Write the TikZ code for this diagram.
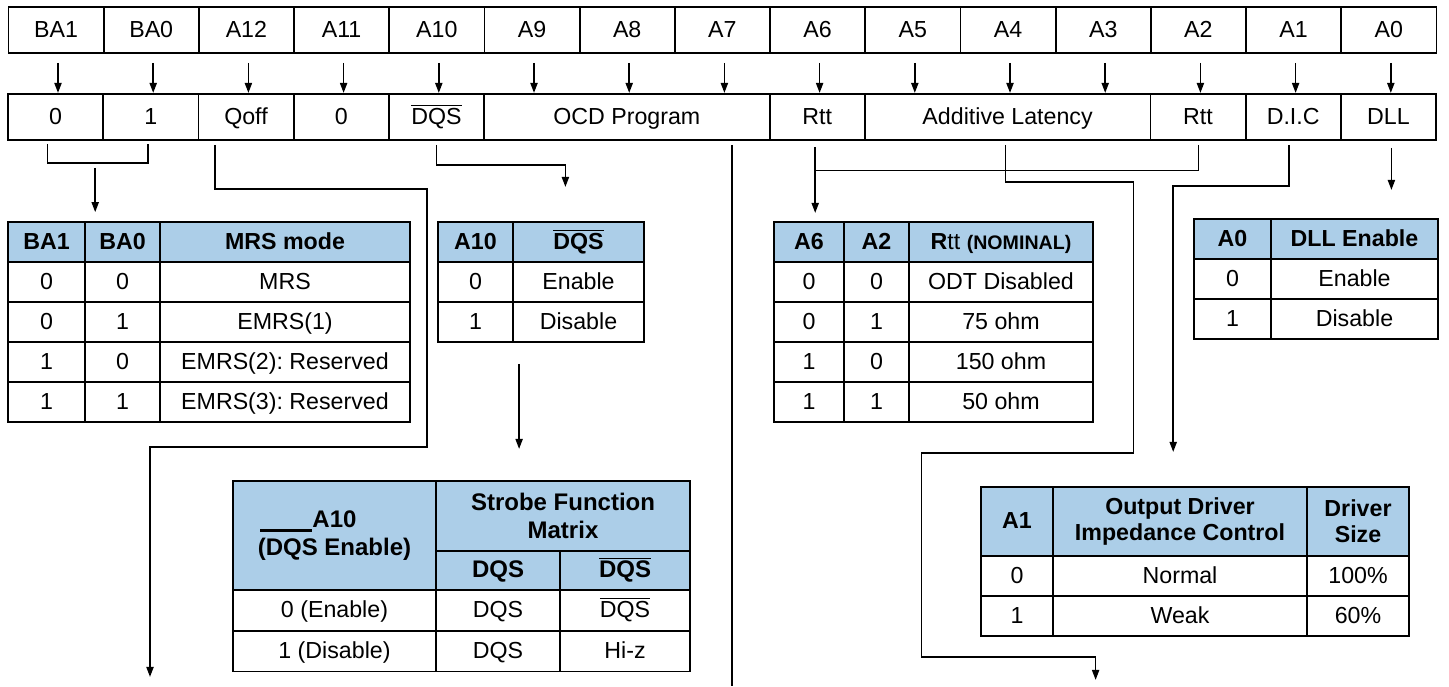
\documentclass[tikz,border=0pt]{standalone}
\usepackage{fontspec}
\setmainfont{Liberation Sans}
\usetikzlibrary{arrows.meta, calc, positioning}
\definecolor{hdblue}{RGB}{172,206,232}
\frenchspacing
\tikzset{
	cell/.style={draw, line width=0.9pt, inner sep=0pt, align=center, text height=0.9em, text depth=0.18em,
		font=\fontsize{11.6}{13}\selectfont},
	hd/.style={cell, fill=hdblue, font=\fontsize{11.6}{13}\selectfont\bfseries},
	bighd/.style={hd, font=\fontsize{12}{14}\selectfont\bfseries},
	multi/.style={text height={}, text depth={}},
	bit/.style={cell, minimum width=47.6pt, minimum height=23pt, font=\fontsize{11.6}{13}\selectfont},
	wire/.style={line width=0.75pt},
	thinwire/.style={line width=0.4pt},
	arr/.style={wire, -{Triangle[length=5pt,width=3.6pt]}}
}
\newcommand{\ovl}[1]{$\overline{\mbox{#1}}$}
% table cell from (x1,y1) to (x2,y2), pixel units
\newcommand{\tc}[7][cell]{\node[#1, minimum width={((#5)-(#3))*0.5pt}, minimum height={((#6)-(#4))*0.5pt}]
	(#2) at ({((#3)+(#5))/2},{((#4)+(#6))/2}) {#7};}

\begin{document}
\begin{tikzpicture}[x=0.5pt, y=-0.5pt]
	\useasboundingbox (0,0) rectangle (1449,686);
	% address bits
	\foreach \lab [count=\i from 0] in {BA1,BA0,A12,A11,A10,A9,A8,A7,A6,A5,A4,A3,A2,A1,A0}
		\node[bit] (b\i) at ({56+95.2*\i},30) {\lab};
	% fields
	\foreach \s/\n/\lab [count=\j from 0] in {0/1/0, 1/1/1, 2/1/Qoff, 3/1/0, 4/1/{\ovl{DQS}}, 5/3/OCD Program,
		8/1/Rtt, 9/3/Additive Latency, 12/1/Rtt, 13/1/D.I.C, 14/1/DLL}
		\node[bit, minimum width=47.6pt*\n] (c\j) at ({8+95.2*(\s+\n/2)},117) {\lab};
	\foreach \i in {0,...,14}
		\draw[arr] ($(b\i.south)+(2,9)$) -- ($(b\i.south)+(2,39)$);

	% MRS mode
	\tc[hd]{mh1}{8}{222}{85}{262}{BA1}
	\tc[hd]{mh2}{85}{222}{160}{262}{BA0}
	\tc[hd]{mh3}{160}{222}{410}{262}{MRS mode}
	\foreach \p/\q/\m [count=\r] in {0/0/MRS, 0/1/EMRS(1), 1/0/{EMRS(2): Reserved}, 1/1/{EMRS(3): Reserved}} {
		\tc{m\r a}{8}{222+40*\r}{85}{262+40*\r}{\p}
		\tc{m\r b}{85}{222+40*\r}{160}{262+40*\r}{\q}
		\tc{m\r c}{160}{222+40*\r}{410}{262+40*\r}{\m}
	}

	% A10 / DQS
	\tc[hd]{ah1}{438}{222}{513}{262}{A10}
	\tc[hd]{ah2}{513}{222}{644}{262}{\ovl{DQS}}
	\foreach \p/\m [count=\r] in {0/Enable, 1/Disable} {
		\tc{a\r a}{438}{222+40*\r}{513}{262+40*\r}{\p}
		\tc{a\r b}{513}{222+40*\r}{644}{262+40*\r}{\m}
	}

	% strobe function matrix
	\tc[bighd,multi]{sh1}{233}{481}{436}{590}{\llap{\rule[-2.5pt]{26pt}{1.6pt}}A10\\(DQS Enable)}
	\tc[bighd,multi]{sh2}{436}{481}{690}{551}{Strobe Function\\Matrix}
	\tc[bighd]{sh3}{436}{551}{560}{590}{DQS}
	\tc[bighd]{sh4}{560}{551}{690}{590}{\ovl{DQS}}
	\foreach \p/\q/\m/\y in {0 (Enable)/DQS/{\ovl{DQS}}/590, 1 (Disable)/DQS/Hi-z/631} {
		\tc{s\y a}{233}{\y}{436}{\y+40.5}{\p}
		\tc{s\y b}{436}{\y}{560}{\y+40.5}{\q}
		\tc{s\y c}{560}{\y}{690}{\y+40.5}{\m}
	}

	% Rtt
	\tc[hd]{rh1}{774}{222}{844}{262}{A6}
	\tc[hd]{rh2}{844}{222}{909}{262}{A2}
	\tc[hd]{rh3}{909}{222}{1093}{262}{R{\mdseries tt} {\fontsize{9.8}{11}\selectfont(NOMINAL)}}
	\foreach \p/\q/\m [count=\r] in {0/0/ODT Disabled, 0/1/75 ohm, 1/0/150 ohm, 1/1/50 ohm} {
		\tc{r\r a}{774}{222+40*\r}{844}{262+40*\r}{\p}
		\tc{r\r b}{844}{222+40*\r}{909}{262+40*\r}{\q}
		\tc{r\r c}{909}{222+40*\r}{1093}{262+40*\r}{\m}
	}

	% DLL
	\tc[hd]{dh1}{1194}{219}{1271}{259}{A0}
	\tc[hd]{dh2}{1271}{219}{1438}{259}{DLL Enable}
	\foreach \p/\m [count=\r] in {0/Enable, 1/Disable} {
		\tc{d\r a}{1194}{219+40*\r}{1271}{259+40*\r}{\p}
		\tc{d\r b}{1271}{219+40*\r}{1438}{259+40*\r}{\m}
	}

	% output driver
	\tc[hd]{oh1}{981}{487}{1053}{556}{A1}
	\tc[hd,multi]{oh2}{1053}{487}{1307}{556}{Output Driver\\Impedance Control}
	\tc[hd,multi]{oh3}{1307}{487}{1409}{556}{Driver\\Size}
	\foreach \p/\q/\m [count=\r] in {0/Normal/100\%, 1/Weak/60\%} {
		\tc{o\r a}{981}{516+40*\r}{1053}{556+40*\r}{\p}
		\tc{o\r b}{1053}{516+40*\r}{1307}{556+40*\r}{\q}
		\tc{o\r c}{1307}{516+40*\r}{1409}{556+40*\r}{\m}
	}

	% connectors
	\draw[wire] ($(c0.south)+(-8,3)$) |- ($(c1.south)+(-3,22)$) -- ($(c1.south)+(-3,3)$);
	\coordinate (bank) at ($(c0.south)!0.5!(c1.south)+(-8,27)$);
	\draw[arr, shorten >=4.5pt] (bank) -- (bank |- mh2.north);
	\draw[arr] ($(c2.south)+(-31,4)$) |- ++(212,44) |- ++(-277,258) -- ++(0,230);
	\draw[arr] ($(c4.south)+(0,4)$) |- ++(129,20) -- ++(0,22);
	\draw[arr] ($(a2b.south west)+(7,21)$) -- ++(0,85);
	\coordinate (ocdend) at ($(c5.south)+(105,545)$);
	\draw[wire] ($(c5.south)+(105,4)$) -- (ocdend);
	\draw[arr] ($(c6.south)+(-2,6)$) -- ++(0,66);
	\draw[thinwire] ($(c8.south)+(0,4)$) |- ($(c6.south)+(-2,29)$);
	\draw[arr] ($(c7.south)+(-2,4)$) |- ++(128,37) |- ++(-212,271) |- ++(174,204) -- ++(0,23);
	\draw[arr] ($(c9.south)+(-4,4)$) |- ++(-116,41) -- ++(0,266);
	\draw[arr] ($(c10.south)+(3,7)$) -- ++(0,42);
\end{tikzpicture}
\end{document}
